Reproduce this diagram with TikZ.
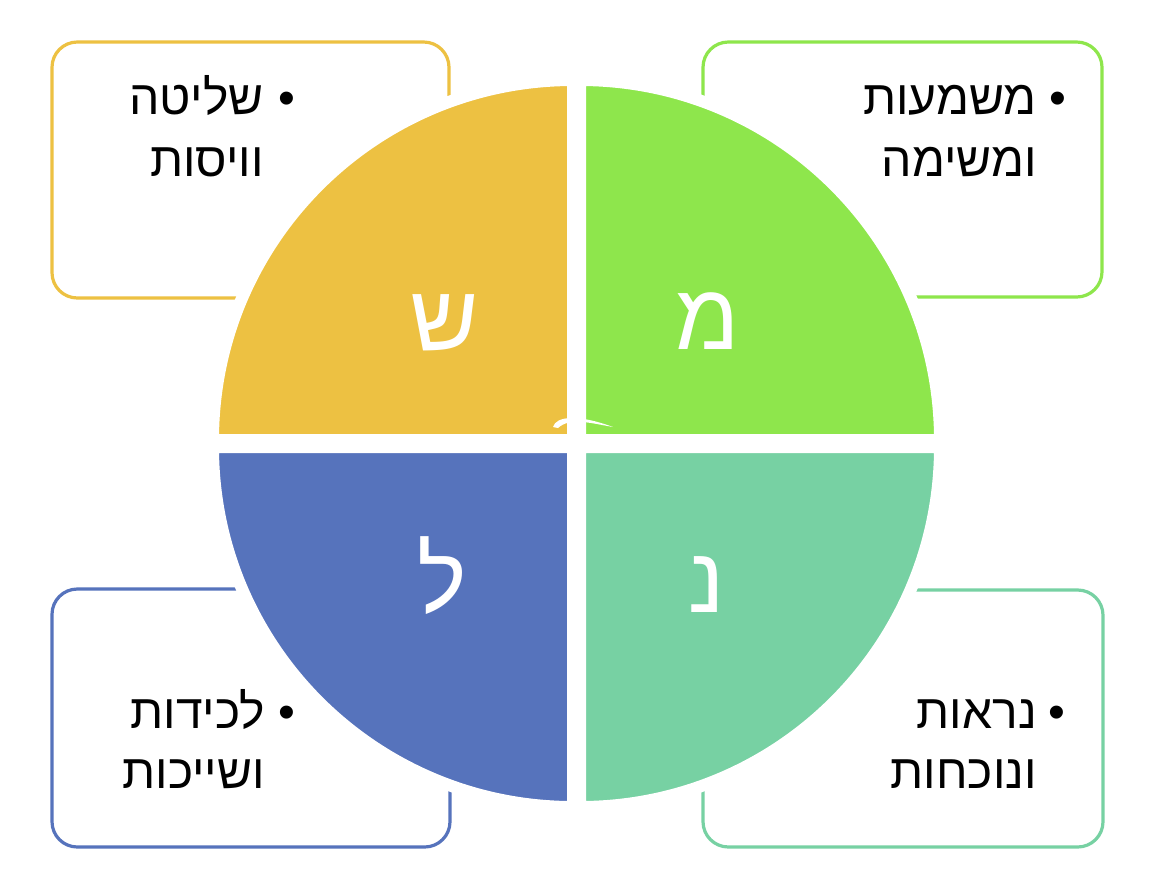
\documentclass[tikz,border=0pt]{standalone}
\usepackage{fontspec}
\setmainfont{Liberation Sans}
\newfontfamily\hebfont[Script=Hebrew]{Liberation Sans}
\TeXXeTstate=1
\definecolor{cY}{HTML}{EDC142}
\definecolor{cG}{HTML}{8EE64C}
\definecolor{cB}{HTML}{5673BC}
\definecolor{cT}{HTML}{77D1A3}
\tikzset{
  boxline/.style={line width=2.4pt, rounded corners=19pt, fill=white},
  quad/.style={draw=white, line width=9pt, line join=miter},
  bigletter/.style={text=white, inner sep=0pt, anchor=base, font=\hebfont\fontsize{70}{70}\selectfont},
  itemtext/.style={text=black, inner sep=0pt, anchor=base east, font=\hebfont\fontsize{36}{40}\selectfont},
  bullettext/.style={text=black, inner sep=0pt, anchor=base, font=\hebfont\fontsize{36}{40}\selectfont}
}
\begin{document}
\begin{tikzpicture}[x=0.75pt,y=-0.75pt]
\useasboundingbox (0,0) rectangle (1162,886);
\fill[white] (0,0) rectangle (1162,886);
% boxes
\draw[boxline, draw=cY] (52,42) rectangle (449,298);
\draw[boxline, draw=cG] (703,42) rectangle (1102,297);
\draw[boxline, draw=cB] (52,589) rectangle (450,847);
\draw[boxline, draw=cT] (703,590) rectangle (1103,847);
% quadrants
\filldraw[quad, fill=cY] (573,440) -- ++(-360,0) arc[start angle=180, end angle=270, radius=360] -- cycle;
\filldraw[quad, fill=cG] (580,440) -- ++(0,-360) arc[start angle=270, end angle=360, radius=360] -- cycle;
\filldraw[quad, fill=cT] (580,447) -- ++(360,0) arc[start angle=0, end angle=90, radius=360] -- cycle;
\filldraw[quad, fill=cB] (573,447) -- ++(0,360) arc[start angle=90, end angle=180, radius=360] -- cycle;
% small white mark at the centre
\fill[white] (553,427) .. controls (556,416) and (578,414) .. (613,427) .. controls (590,423) and (570,417) .. (558,428) -- cycle;
% big letters
\node[bigletter] (ls) at (445,350) {ש};
\node[bigletter] (lm) at (708,349) {מ};
\node[bigletter] (ll) at (442,612) {ל};
\node[bigletter] (ln) at (707,612) {נ};
% top-left text
\node[bullettext] (b1) at (287,114) {•};
\node[itemtext] (t1a) at (264,114) {\beginR שליטה\endR};
\node[itemtext] (t1b) at (264,176) {\beginR וויסות\endR};
% top-right text
\node[bullettext] (b2) at (1058,114) {•};
\node[itemtext] (t2a) at (1037,114) {\beginR משמעות\endR};
\node[itemtext] (t2b) at (1037,176) {\beginR ומשימה\endR};
% bottom-left text
\node[bullettext] (b3) at (287,728) {•};
\node[itemtext] (t3a) at (265,728) {\beginR לכידות\endR};
\node[itemtext] (t3b) at (265,788) {\beginR ושייכות\endR};
% bottom-right text
\node[bullettext] (b4) at (1057,728) {•};
\node[itemtext] (t4a) at (1037,728) {\beginR נראות\endR};
\node[itemtext] (t4b) at (1037,788) {\beginR ונוכחות\endR};
\end{tikzpicture}
\end{document}
